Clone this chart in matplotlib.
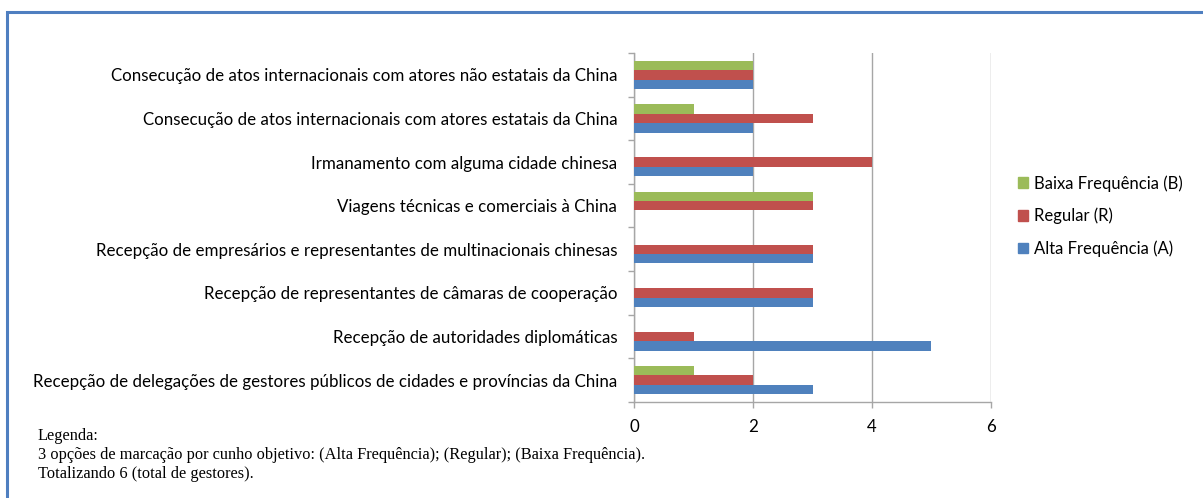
import matplotlib
matplotlib.use("Agg")
import matplotlib.pyplot as plt
from matplotlib.patches import Rectangle, Patch
import numpy as np

categories = [
    "Consecução de atos internacionais com atores não estatais da China",
    "Consecução de atos internacionais com atores estatais da China",
    "Irmanamento com alguma cidade chinesa",
    "Viagens técnicas e comerciais à China",
    "Recepção de empresários e representantes de multinacionais chinesas",
    "Recepção de representantes de câmaras de cooperação",
    "Recepção de autoridades diplomáticas",
    "Recepção de delegações de gestores públicos de cidades e províncias da China",
]
baixa = [2, 1, 0, 3, 0, 0, 0, 1]
regular = [2, 3, 4, 3, 3, 3, 1, 2]
alta = [2, 2, 2, 0, 3, 3, 5, 3]
series_names = ["Baixa Frequência (B)", "Regular (R)", "Alta Frequência (A)"]
xticks = [0, 2, 4, 6]
note_lines = [
    "Legenda:",
    "3 opções de marcação por cunho objetivo: (Alta Frequência); (Regular); (Baixa Frequência).",
    "Totalizando 6 (total de gestores).",
]

c_blue = "#4F81BD"
c_red = "#C0504D"
c_green = "#9BBB59"
grid_c = "#A6A6A6"
font = ["Lato", "DejaVu Sans"]

W, H = 1203, 498
fig = plt.figure(figsize=(W / 100, H / 100), dpi=100)

# frame
fig.patches.append(Rectangle((7 / W, -0.1), 1.2, 1 - 12 / H + 0.1, transform=fig.transFigure,
                             fill=False, edgecolor="#4F7FC0", linewidth=2.2, zorder=0))

ax = fig.add_axes([634 / W, 1 - 402 / H, (991 - 634) / W, (402 - 53) / H])

n = len(categories)
y = np.arange(n)[::-1]
h = 0.215
ax.barh(y - h, alta, height=h, color=c_blue, zorder=3)
ax.barh(y, regular, height=h, color=c_red, zorder=3)
ax.barh(y + h, baixa, height=h, color=c_green, zorder=3)

ax.set_xlim(0, 6)
ax.set_ylim(-0.5, n - 0.5)
ax.set_xticks(xticks)
ax.set_xticklabels([str(v) for v in xticks], fontfamily=font, fontsize=12.2)
ax.set_yticks(y)
ax.set_yticklabels(categories, fontfamily=font, fontsize=12.2)
ax.tick_params(axis="y", which="major", length=0, pad=12)
ax.set_yticks(np.arange(-0.5, n, 1), minor=True)
ax.tick_params(axis="y", which="minor", length=4, color=grid_c, width=1)
ax.tick_params(axis="x", length=4, color=grid_c, width=1, pad=8)

ax.grid(axis="x", color=grid_c, linewidth=1, zorder=0)
ax.set_axisbelow(True)
for s in ["top", "right"]:
    ax.spines[s].set_visible(False)
for s in ["left", "bottom"]:
    ax.spines[s].set_color(grid_c)
    ax.spines[s].set_linewidth(1)
ax.patch.set_alpha(0)

handles = [Patch(color=c_green), Patch(color=c_red), Patch(color=c_blue)]
fig.legend(handles, series_names, loc="center left", bbox_to_anchor=(1003 / W, 1 - 216 / H),
           frameon=False, prop={"family": font, "size": 12}, handlelength=0.6,
           handleheight=0.6, handletextpad=0.35, labelspacing=0.97)

for i, line in enumerate(note_lines):
    fig.text(38 / W, 1 - (436 + 19 * i) / H, line, fontfamily="Liberation Serif",
             fontsize=11.8, va="center", ha="left")

fig.savefig("out.png", dpi=100)
